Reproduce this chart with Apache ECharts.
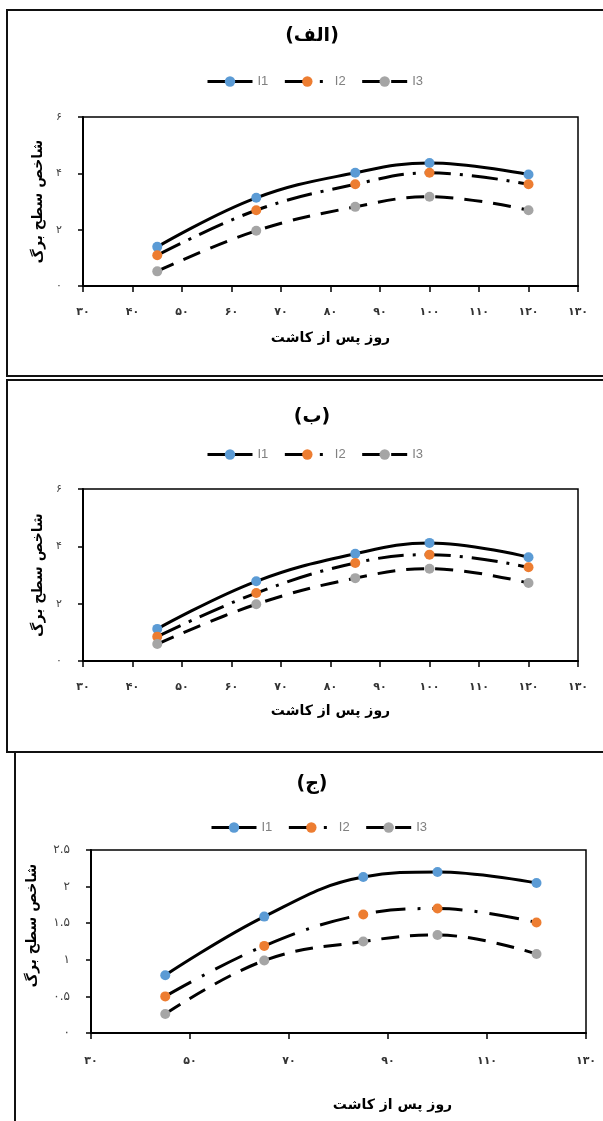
<!DOCTYPE html>
<html>
<head>
<meta charset="utf-8">
<script src="https://cdn.jsdelivr.net/npm/echarts@6/dist/echarts.min.js"></script>
<style>
  html, body { margin: 0; padding: 0; background: #fff; }
  #main { width: 603px; height: 1121px; }
</style>
</head>
<body>
<div id="main"></div>
<script>
// روز پس از کاشت
const days = [45, 65, 85, 100, 120];
const seriesNames = ['I1', 'I2', 'I3'];
const panelTitles = ['(الف)', '(ب)', '(ج)'];

// (الف)
const alefI1 = [1.39, 3.13, 4.02, 4.37, 3.96];
const alefI2 = [1.09, 2.69, 3.61, 4.02, 3.61];
const alefI3 = [0.52, 1.96, 2.81, 3.17, 2.69];
// (ب)
const beI1 = [1.12, 2.78, 3.74, 4.12, 3.62];
const beI2 = [0.85, 2.37, 3.42, 3.71, 3.27];
const beI3 = [0.59, 1.98, 2.89, 3.22, 2.72];
// (ج)
const jimI1 = [0.79, 1.59, 2.13, 2.20, 2.05];
const jimI2 = [0.50, 1.19, 1.62, 1.70, 1.51];
const jimI3 = [0.26, 0.99, 1.25, 1.34, 1.08];

const panelData = [
  [alefI1, alefI2, alefI3],
  [beI1, beI2, beI3],
  [jimI1, jimI2, jimI3]
];

// تیک‌ها
const xRange = [30, 130];
const xStep = [10, 10, 20];
const yMax = [6, 6, 2.5];
const yStep = [2, 2, 0.5];

const markerColors = ['#5B9BD5', '#ED7D31', '#A5A5A5'];

// اعداد فارسی
const faDigits = '۰۱۲۳۴۵۶۷۸۹';
function toFa(v) {
  return String(v).replace(/\d/g, d => faDigits[d]);
}

const grids = [
  { left: 83, top: 117, width: 495, height: 169 },
  { left: 83, top: 489, width: 495, height: 172 },
  { left: 91, top: 850, width: 495, height: 183 }
];
const dashDot = [[26, 9, 3, 9], [26, 9, 3, 9], [30, 12, 3, 12]];
const dashed = [18, 11];

const titleTops = [22, 403, 770];
const legendTops = [70, 443, 816];
const legendLefts = [201, 201, 205];
const xNameGaps = [45, 43, 65];
const yNameGaps = [38, 38, 52];

const chart = echarts.init(document.getElementById('main'));

const option = {
  animation: false,
  backgroundColor: '#fff',
  title: panelTitles.map((t, i) => ({
    text: t,
    left: 307,
    top: titleTops[i],
    textAlign: 'center',
    textStyle: { fontFamily: 'DejaVu Sans', fontWeight: 'bold', fontSize: 19, color: '#000' }
  })),
  legend: legendTops.map((top, i) => ({
    data: seriesNames,
    top: top,
    left: legendLefts[i],
    itemWidth: 45,
    itemHeight: 13,
    itemGap: 15,
    selectedMode: false,
    lineStyle: { width: 3 },
    textStyle: { fontFamily: 'Liberation Sans', fontSize: 13, color: '#808080' }
  })),
  grid: grids.map(g => Object.assign({ show: true, borderColor: '#000', borderWidth: 1.5, backgroundColor: '#fff' }, g)),
  xAxis: grids.map((g, i) => ({
    type: 'value',
    gridIndex: i,
    min: xRange[0],
    max: xRange[1],
    interval: xStep[i],
    name: 'روز پس از کاشت',
    nameLocation: 'middle',
    nameGap: xNameGaps[i],
    nameTextStyle: {
      fontFamily: 'DejaVu Sans', fontWeight: 'bold', fontSize: 14, color: '#000',
      padding: i === 2 ? [0, 0, 0, 108] : 0
    },
    splitLine: { show: false },
    axisLine: { show: true, lineStyle: { color: '#000', width: 2 } },
    axisTick: { show: true, length: 6, lineStyle: { color: '#000', width: 1.5 } },
    axisLabel: {
      margin: i === 2 ? 23 : 21,
      fontFamily: 'DejaVu Sans', fontWeight: 'bold', fontSize: 11, color: '#333',
      formatter: v => toFa(v)
    }
  })),
  yAxis: grids.map((g, i) => ({
    type: 'value',
    gridIndex: i,
    min: 0,
    max: yMax[i],
    interval: yStep[i],
    name: 'شاخص سطح برگ',
    nameLocation: 'middle',
    nameRotate: 90,
    nameGap: yNameGaps[i],
    nameTextStyle: {
      fontFamily: 'DejaVu Sans', fontWeight: 'bold', fontSize: 14, color: '#000',
      padding: i === 2 ? [0, 0, 0, 32] : 0
    },
    splitLine: { show: false },
    axisLine: { show: true, lineStyle: { color: '#000', width: 2 } },
    axisTick: { show: true, length: 5, lineStyle: { color: '#000', width: 1.5 } },
    axisLabel: {
      margin: 21,
      padding: [0, 0, 10, 0],
      fontFamily: 'DejaVu Sans', fontSize: i === 2 ? 12 : 11, color: '#404040',
      formatter: v => toFa(v)
    }
  })),
  series: []
};

panelData.forEach((sets, p) => {
  sets.forEach((vals, s) => {
    option.series.push({
      name: seriesNames[s],
      type: 'line',
      xAxisIndex: p,
      yAxisIndex: p,
      smooth: 0.4,
      symbol: 'circle',
      symbolSize: 10,
      data: days.map((d, k) => [d, vals[k]]),
      itemStyle: { color: markerColors[s] },
      lineStyle: {
        color: '#000',
        width: 3,
        type: s === 0 ? 'solid' : (s === 1 ? dashDot[p] : dashed)
      }
    });
  });
});

// قاب‌ها
option.graphic = [
  { type: 'rect', shape: { x: 7, y: 10, width: 600, height: 366 }, style: { fill: 'none', stroke: '#111', lineWidth: 2 }, z: 100 },
  { type: 'rect', shape: { x: 7, y: 380, width: 600, height: 372 }, style: { fill: 'none', stroke: '#111', lineWidth: 2 }, z: 100 },
  { type: 'line', shape: { x1: 15, y1: 752, x2: 15, y2: 1121 }, style: { stroke: '#111', lineWidth: 2 }, z: 100 }
];

chart.setOption(option);
</script>
</body>
</html>
